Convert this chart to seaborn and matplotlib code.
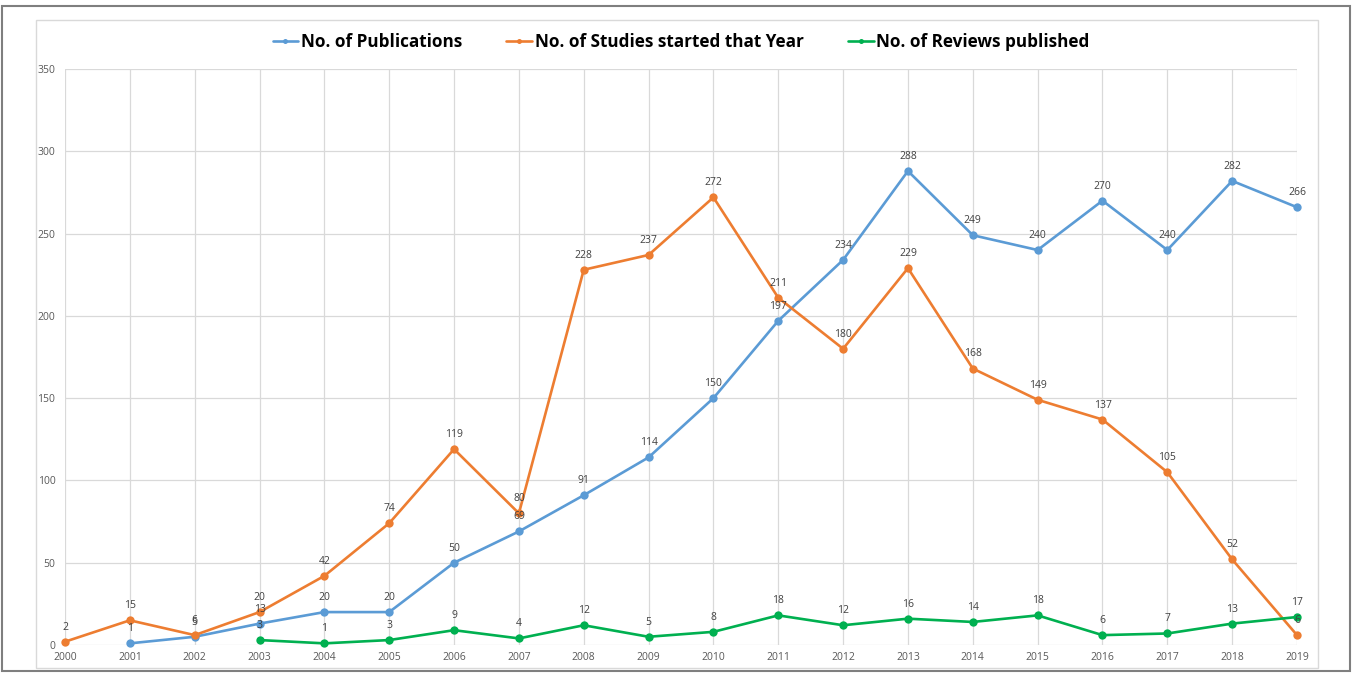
import matplotlib
matplotlib.use("Agg")
import matplotlib.pyplot as plt
import seaborn as sns
import pandas as pd
from matplotlib.patches import Rectangle

years_pub = list(range(2001, 2020))
publications = [1, 5, 13, 20, 20, 50, 69, 91, 114, 150, 197, 234, 288, 249, 240, 270, 240, 282, 266]
years_stu = list(range(2000, 2020))
studies = [2, 15, 6, 20, 42, 74, 119, 80, 228, 237, 272, 211, 180, 229, 168, 149, 137, 105, 52, 6]
years_rev = list(range(2003, 2020))
reviews = [3, 1, 3, 9, 4, 12, 5, 8, 18, 12, 16, 14, 18, 6, 7, 13, 17]

series_names = ["No. of Publications", "No. of Studies started that Year", "No. of Reviews published"]
colors = ["#5B9BD5", "#ED7D31", "#00B050"]

sns.set_theme(style="white")
plt.rcParams['font.family'] = ['Open Sans', 'DejaVu Sans']

fig = plt.figure(figsize=(13.52, 6.77), dpi=100)
ax = fig.add_axes([65/1352, 1-645/677, (1297-65)/1352, (645-69)/677])

# frames
fig.patches.append(Rectangle((2/1352, 1-671/677), 1348/1352, 665/677, transform=fig.transFigure,
                             fill=False, edgecolor="#7F7F7F", linewidth=1.5, zorder=0))
fig.patches.append(Rectangle((36/1352, 1-668/677), (1318-36)/1352, (668-20)/677, transform=fig.transFigure,
                             fill=False, edgecolor="#D9D9D9", linewidth=1.0, zorder=0))

data = [(years_pub, publications), (years_stu, studies), (years_rev, reviews)]
for (xs, ys), name, c in zip(data, series_names, colors):
    df = pd.DataFrame({"year": xs, "value": ys})
    sns.lineplot(data=df, x="year", y="value", ax=ax, color=c, marker="o", markersize=6,
                 markeredgewidth=0, linewidth=1.9, label=name, clip_on=False, zorder=3)
    for x, y in zip(xs, ys):
        ax.annotate(str(y), (x, y), xytext=(0, 6.5), textcoords="offset points",
                    ha="center", va="bottom", fontsize=7.5, color="#404040", zorder=4,
                    annotation_clip=False)

ax.set_xlim(2000, 2019)
ax.set_ylim(0, 350)
ax.set_xticks(list(range(2000, 2020)))
ax.set_yticks(list(range(0, 351, 50)))
ax.grid(True, color="#D9D9D9", linewidth=0.9)
ax.set_axisbelow(True)
for s in ax.spines.values():
    s.set_visible(False)
ax.tick_params(axis="both", labelsize=7.5, colors="#595959", length=0)
ax.tick_params(axis="x", pad=5)
ax.tick_params(axis="y", pad=7)
ax.set_xlabel("")
ax.set_ylabel("")

leg = ax.legend(loc="center", bbox_to_anchor=(0.5, 1 + 27/576), ncol=3, frameon=False,
                prop={"weight": "bold", "size": 12.3}, handlelength=1.5, handletextpad=0.15,
                columnspacing=2.6, markerscale=0.6)
for t in leg.get_texts():
    t.set_color("#000000")

fig.savefig("out.png", dpi=100)
